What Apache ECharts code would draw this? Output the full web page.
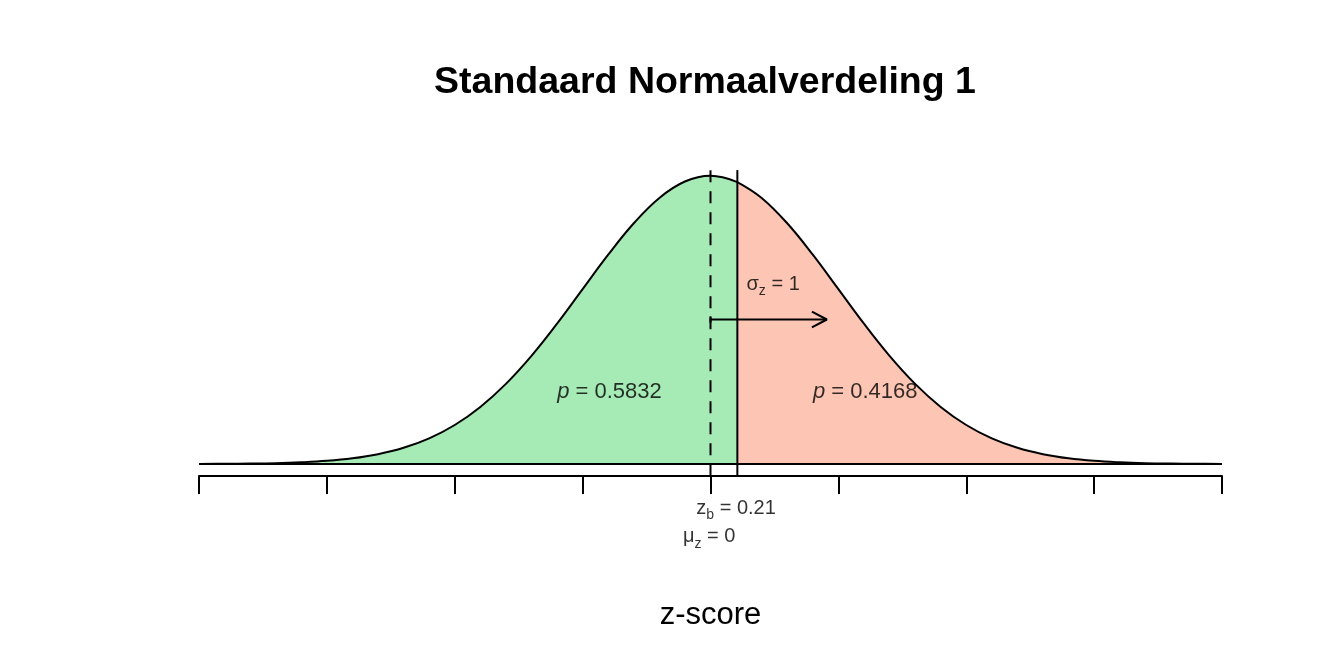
<!DOCTYPE html>
<html>
<head>
<meta charset="utf-8">
<title>Standaard Normaalverdeling 1</title>
<script src="https://cdn.jsdelivr.net/npm/echarts@6/dist/echarts.min.js"></script>
<style>
  html, body { margin: 0; padding: 0; background: #fff; }
  #chart { width: 1344px; height: 672px; }
</style>
</head>
<body>
<div id="chart"></div>
<script>
// curve values (density of the standard normal)
var zValues = [-4, -3.8, -3.6, -3.4, -3.2, -3, -2.8, -2.6, -2.4, -2.2, -2, -1.8, -1.6, -1.4, -1.2, -1, -0.8, -0.6, -0.4, -0.2,
  0, 0.21, 0.4, 0.6, 0.8, 1, 1.2, 1.4, 1.6, 1.8, 2, 2.2, 2.4, 2.6, 2.8, 3, 3.2, 3.4, 3.6, 3.8, 4]
var density = [0.0001, 0.0003, 0.0006, 0.0012, 0.0024, 0.0044, 0.0079, 0.0136, 0.0224, 0.0355, 0.0540, 0.0790, 0.1109, 0.1497, 0.1942, 0.2420, 0.2897, 0.3332, 0.3683, 0.3910,
  0.3989, 0.3902, 0.3683, 0.3332, 0.2897, 0.2420, 0.1942, 0.1497, 0.1109, 0.0790, 0.0540, 0.0355, 0.0224, 0.0136, 0.0079, 0.0044, 0.0024, 0.0012, 0.0006, 0.0003, 0.0001]

var zb = 0.21
var zbDensity = 0.3902
var mu = 0
var pLeft = '0.5832'
var pRight = '0.4168'
var xMin = -4
var xMax = 4
var xStep = 1

// arrow for sigma, in data units
var arrowShaft = [[0, 0.2], [0.91, 0.2]]
var arrowHead = [[0.793, 0.211], [0.91, 0.2], [0.793, 0.189]]
var arrowBar = [[0, 0.2045], [0, 0.1955]]

// vertical guides (run a bit over the curve and down to the axis)
var meanLine = [[0, -0.017], [0, 0.414]]
var zbDashed = [[0.21, zbDensity], [0.21, 0.414]]
var zbSolid = [[0.21, -0.017], [0.21, zbDensity]]
var baseLine = [[-4, 0], [4, 0]]

// text annotations: [x, y]
var labelLeftPos = [-0.79, 0.1]
var labelRightPos = [1.21, 0.1]
var sigmaPos = [0.49, 0.249]
var zbLabelPos = [0.2, -0.061]
var muLabelPos = [-0.01, -0.101]

var FONT = 'Liberation Sans, Arial, Helvetica, sans-serif'
var GREEN = '#a6eab5'
var RED = '#fdc6b4'

var leftData = []
var rightData = []
zValues.forEach(function(z, i) {
  if (z <= zb) leftData.push([z, density[i]])
  if (z >= zb) rightData.push([z, density[i]])
})

var rich = {
  n: { fontFamily: FONT, fontSize: 20, color: '#000', lineHeight: 28, verticalAlign: 'middle' },
  s: { fontFamily: FONT, fontSize: 14, color: '#000', lineHeight: 28, verticalAlign: 'bottom' },
  pi: { fontFamily: FONT, fontSize: 22, color: '#000', fontStyle: 'italic', lineHeight: 28, verticalAlign: 'middle' },
  pn: { fontFamily: FONT, fontSize: 22, color: '#000', lineHeight: 28, verticalAlign: 'middle' }
}

function textPoint(pos, text) {
  return {
    value: pos,
    label: {
      show: true,
      position: 'inside',
      color: '#000',
      formatter: text,
      rich: rich
    }
  }
}

function plainLine(data, width, type) {
  return {
    type: 'line',
    data: data,
    symbol: 'none',
    clip: false,
    silent: true,
    lineStyle: { color: '#000', width: width, type: type || 'solid' },
    z: 4
  }
}

var chart = echarts.init(document.getElementById('chart'))
chart.setOption({
  animation: false,
  title: {
    text: 'Standaard Normaalverdeling 1',
    left: 700,
    top: 59,
    textAlign: 'center',
    textStyle: { fontFamily: FONT, fontSize: 37.5, fontWeight: 'bold', color: '#000' }
  },
  grid: { left: 199, right: 122, top: 175, bottom: 208 },
  xAxis: {
    type: 'value',
    min: xMin,
    max: xMax,
    interval: xStep,
    offset: 12,
    name: 'z-score',
    nameLocation: 'middle',
    nameGap: 124,
    nameTextStyle: { fontFamily: FONT, fontSize: 31, color: '#000' },
    axisLine: { show: true, onZero: false, lineStyle: { color: '#000', width: 2 } },
    axisTick: { show: true, length: 18, lineStyle: { color: '#000', width: 2 } },
    axisLabel: { show: false },
    splitLine: { show: false }
  },
  yAxis: {
    type: 'value',
    min: 0,
    max: 0.4,
    show: false
  },
  series: [
    {
      type: 'line',
      data: leftData,
      smooth: 0.4,
      symbol: 'none',
      silent: true,
      lineStyle: { color: '#000', width: 2 },
      areaStyle: { color: GREEN, opacity: 1 },
      z: 2
    },
    {
      type: 'line',
      data: rightData,
      smooth: 0.4,
      symbol: 'none',
      silent: true,
      lineStyle: { color: '#000', width: 2 },
      areaStyle: { color: RED, opacity: 1 },
      z: 2
    },
    plainLine(baseLine, 2),
    plainLine(meanLine, 2, [12, 9]),
    plainLine(zbDashed, 2, [12, 9]),
    plainLine(zbSolid, 2),
    plainLine(arrowShaft, 2),
    plainLine(arrowHead, 2),
    plainLine(arrowBar, 2),
    {
      type: 'scatter',
      symbolSize: 0,
      clip: false,
      silent: true,
      z: 5,
      data: [
        textPoint(labelLeftPos, '{pi|p}{pn| = ' + pLeft + '}'),
        textPoint(labelRightPos, '{pi|p}{pn| = ' + pRight + '}'),
        textPoint(sigmaPos, '{n|σ}{s|z}{n| = 1}'),
        textPoint(zbLabelPos, '{n|z}{s|b}{n| = ' + zb + '}'),
        textPoint(muLabelPos, '{n|μ}{s|z}{n| = ' + mu + '}')
      ]
    }
  ]
})
</script>
</body>
</html>
